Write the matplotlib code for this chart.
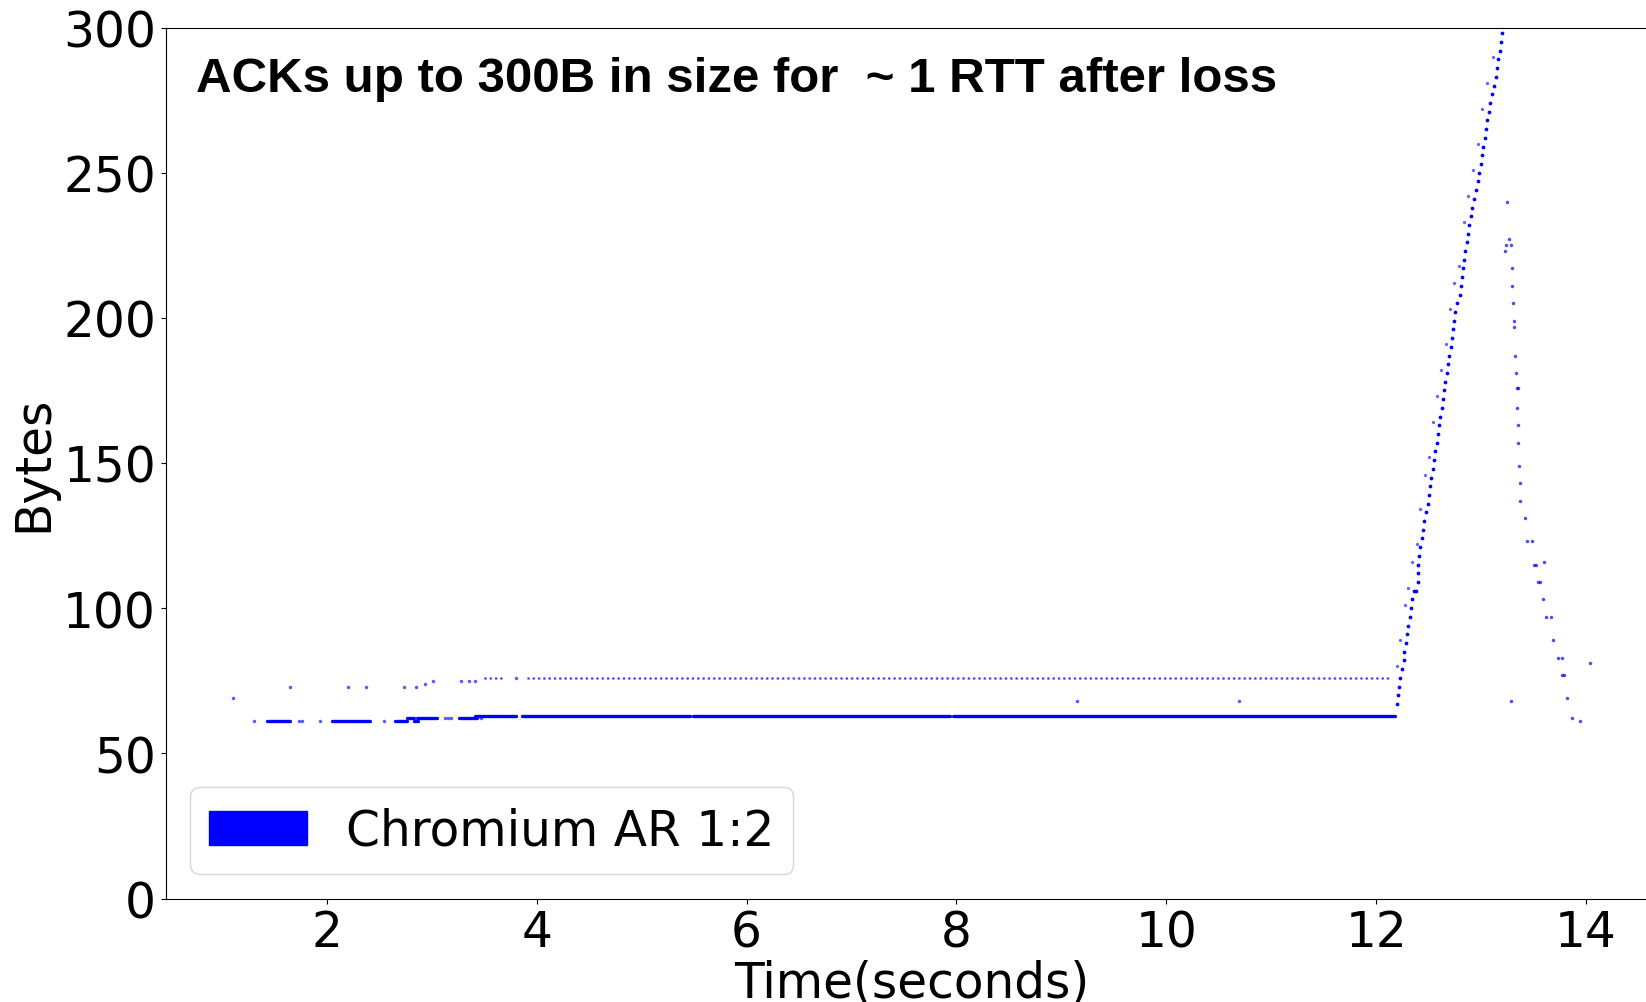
import matplotlib
matplotlib.use("Agg")
import matplotlib.pyplot as plt
import matplotlib.patches as mpatches

# dense runs of ACKs (start time, end time, size in bytes)
run_start = [1.43, 2.05, 2.65, 2.83, 2.76, 2.86, 3.26, 3.41, 3.86, 5.49, 7.97]
run_end   = [1.65, 2.41, 2.76, 2.87, 2.83, 3.05, 3.43, 3.80, 5.46, 7.94, 12.185]
run_size  = [61, 61, 61, 61, 62, 62, 62, 63, 63, 63, 63]

# regularly spaced 76B ACKs (dotted row)
row_start = [3.51, 3.92]
row_end   = [3.71, 12.15]
row_size  = [76, 76]

# single ACKs before the loss
early_t = [1.11, 1.31, 1.65, 1.73, 1.76, 1.93, 2.20, 2.37, 2.54, 2.74, 2.85,
           2.94, 3.01, 3.13, 3.18, 3.15, 3.28, 3.35, 3.41, 3.47, 3.76, 3.80,
           9.15, 10.69]
early_b = [69, 61, 73, 61, 61, 61, 73, 73, 61, 73, 73,
           74, 75, 62, 62, 62, 75, 75, 75, 62, 63, 76,
           68, 68]

# growing ACKs after loss
ramp_t = [12.195, 12.208, 12.220, 12.230, 12.249, 12.262, 12.268, 12.281, 12.294,
          12.306, 12.319, 12.335, 12.345, 12.366, 12.380, 12.395, 12.399, 12.402,
          12.405, 12.418, 12.437, 12.446, 12.456, 12.478, 12.494, 12.503, 12.516,
          12.526, 12.538, 12.551, 12.566, 12.582, 12.589, 12.598, 12.610, 12.629,
          12.640, 12.652, 12.661, 12.675, 12.684, 12.697, 12.716, 12.725, 12.735,
          12.747, 12.757, 12.776, 12.799, 12.808, 12.818, 12.827, 12.840, 12.852,
          12.862, 12.875, 12.888, 12.904, 12.919, 12.935, 12.954, 12.970, 12.983,
          12.999, 13.008, 13.021, 13.040, 13.049, 13.061, 13.075, 13.087, 13.103,
          13.122, 13.142, 13.157, 13.164, 13.180, 13.190, 13.199, 13.207]
ramp_b = [67, 70, 73, 76, 79, 82, 85, 88, 91,
          94, 97, 100, 103, 106, 106, 109, 112, 115,
          118, 121, 124, 127, 130, 133, 136, 139, 142,
          145, 148, 151, 154, 157, 160, 163, 166, 169,
          172, 175, 178, 181, 184, 187, 190, 193, 196,
          199, 202, 205, 208, 211, 214, 217, 220, 223,
          226, 229, 232, 235, 238, 241, 244, 247, 250,
          253, 256, 259, 262, 265, 268, 271, 274, 277,
          280, 283, 286, 289, 292, 295, 298, 301]

# fainter ACKs next to the ramp
side_t = [13.116, 13.059, 13.014, 12.967, 12.925, 12.875, 12.837, 12.792, 12.747,
          12.709, 12.665, 12.623, 12.585, 12.544, 12.509, 12.465, 12.423, 12.392,
          12.344, 12.309, 12.275, 12.230, 12.195]
side_b = [290, 281, 272, 260, 251, 242, 233, 218, 212,
          203, 191, 182, 173, 164, 152, 146, 134, 122,
          116, 107, 101, 89, 80]

# shrinking ACKs after one RTT
fall_t = [13.252, 13.266, 13.243, 13.288, 13.230, 13.294, 13.300, 13.304, 13.310,
          13.316, 13.323, 13.329, 13.342, 13.350, 13.342, 13.351, 13.357, 13.367,
          13.373, 13.376, 13.418, 13.443, 13.490, 13.510, 13.526, 13.605, 13.541,
          13.563, 13.595, 13.624, 13.666, 13.690, 13.736, 13.771, 14.041, 13.776,
          13.795, 13.288, 13.821, 13.866, 13.939]
fall_b = [240, 227, 225, 225, 223, 217, 211, 205, 199,
          197, 187, 181, 176, 176, 169, 163, 157, 149,
          143, 137, 131, 123, 123, 115, 115, 116, 109,
          109, 103, 97, 97, 89, 83, 83, 81, 77,
          77, 68, 69, 62, 61]

fig = plt.figure(figsize=(16.46, 10.03), dpi=100)
ax = fig.add_axes([165.7 / 1646, 103.5 / 1003, 1492.6 / 1646, 871 / 1003])

ax.hlines(run_size, run_start, run_end, colors='blue', linewidth=2.4, capstyle='round')
ax.hlines(row_size, row_start, row_end, colors='blue', alpha=0.7, linewidth=2.0,
          linestyles=[(0, (0.01, 1.9))], capstyle='round')
ax.plot(early_t, early_b, 'o', color='blue', alpha=0.65, markersize=2.5, markeredgewidth=0)
ax.plot(ramp_t, ramp_b, 'o', color='blue', markersize=2.7, markeredgewidth=0)
ax.plot(side_t, side_b, 'o', color='blue', alpha=0.6, markersize=2.4, markeredgewidth=0)
ax.plot(fall_t, fall_b, 'o', color='blue', alpha=0.7, markersize=2.5, markeredgewidth=0)

ax.set_xlim(0.464, 14.69)
ax.set_ylim(0, 300)
ax.tick_params(labelsize=35)
ax.set_xlabel("Time(seconds)", fontsize=35, labelpad=2)
ax.set_ylabel("Bytes", fontsize=35)

ax.text(0.0205, 0.9266, "ACKs up to 300B in size for  ~ 1 RTT after loss",
        transform=ax.transAxes, fontsize=35.5, fontweight='bold',
        family='Liberation Sans', va='baseline')

ax.legend(handles=[mpatches.Patch(color='blue', label='Chromium AR 1:2')],
          loc='lower left', fontsize=35)

fig.savefig("out.png", dpi=100)
